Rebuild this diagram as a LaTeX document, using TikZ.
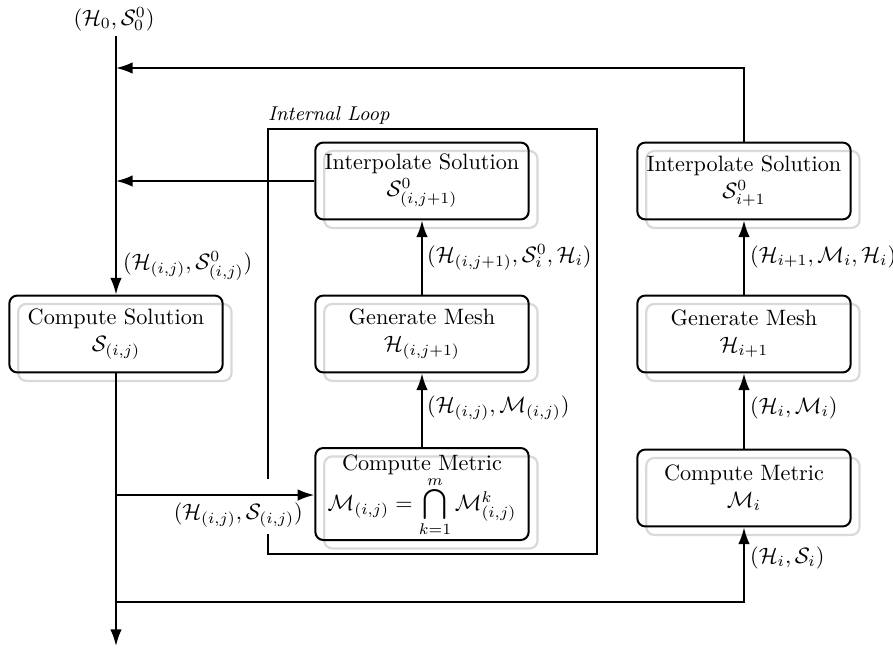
\documentclass[tikz,border=0pt]{standalone}
\usetikzlibrary{arrows.meta,shadows}
\newcommand{\bigcapx}{\mathop{\vcenter{\hbox{\scalebox{1.35}{$\bigcap$}}}}}
\begin{document}
\begin{tikzpicture}[x=0.45pt,y=-0.45pt, line width=0.9pt,
  box/.style={draw, rounded corners=3.6pt, minimum width=96pt, minimum height=34.6pt,
    align=center, inner sep=2pt,
    general shadow={shadow xshift=4pt, shadow yshift=-3.8pt, draw=gray!30, line width=1pt}},
  arr/.style={-{Latex[length=7.5pt,width=5.2pt]}},
  lbl/.style={inner sep=1pt}]
\useasboundingbox (0,0) rectangle (893,648);

% boxes
\node[box] (cs) at (116,334) {Compute Solution\\$\mathcal{S}_{(i,j)}$};
\node[box] (ii) at (422,181) {Interpolate Solution\\$\mathcal{S}^0_{(i,j+1)}$};
\node[box] (ig) at (422,334) {Generate Mesh\\$\mathcal{H}_{(i,j+1)}$};
\node[box, minimum height=41.4pt, inner ysep=0pt] (im) at (422,494) {\raisebox{-7pt}{\begin{tabular}{@{}c@{}}Compute Metric\\[-1pt] $\mathcal{M}_{(i,j)}=\bigcapx\limits_{k=1}^{m}\mathcal{M}^k_{(i,j)}$\end{tabular}}};
\node[box] (ri) at (744,181) {Interpolate Solution\\$\mathcal{S}^0_{i+1}$};
\node[box] (rg) at (744,334) {Generate Mesh\\$\mathcal{H}_{i+1}$};
\node[box] (rm) at (744,488) {Compute Metric\\$\mathcal{M}_i$};

% internal loop frame
\draw (268,479) -- (268,129) -- (597,129) -- (597,554) -- (268,554) -- (268,534);
\node[lbl, anchor=west, font=\fontsize{9pt}{11pt}\selectfont\itshape] (loop) at (265,115) {Internal Loop};

% main line
\coordinate (top) at (116,36);
\coordinate (bot) at (116,646);
\coordinate (j1) at (116,68);
\coordinate (b1) at (116,495);
\coordinate (b2) at (116,602);
\node[lbl, anchor=south] (l0) at (114,34) {$(\mathcal{H}_0,\mathcal{S}_0^0)$};
\draw[arr] (top) -- (cs.north);
\draw[arr] (cs.south) -- (bot);
\draw[arr] (ri.north) |- (j1);
\draw[arr] (ii.west) -- (ii.west -| top);
\draw[arr] (b1) -- (b1 -| im.west);
\draw[arr] (b2) -| (rm.south);
\draw[arr] (im) -- (ig);
\draw[arr] (ig) -- (ii);
\draw[arr] (rm) -- (rg);
\draw[arr] (rg) -- (ri);

% labels
\node[lbl, anchor=west] (l1) at (120,266) {$(\mathcal{H}_{(i,j)},\mathcal{S}^0_{(i,j)})$};
\node[lbl, anchor=west] (l2) at (424,257) {$(\mathcal{H}_{(i,j+1)},\mathcal{S}^0_{i},\mathcal{H}_i)$};
\node[lbl, anchor=west] (l3) at (424,408) {$(\mathcal{H}_{(i,j)},\mathcal{M}_{(i,j)})$};
\node[lbl, anchor=east] (l4) at (306,515) {$(\mathcal{H}_{(i,j)},\mathcal{S}_{(i,j)})$};
\node[lbl, anchor=west] (l5) at (747,257) {$(\mathcal{H}_{i+1},\mathcal{M}_{i},\mathcal{H}_i)$};
\node[lbl, anchor=west] (l6) at (747,408) {$(\mathcal{H}_{i},\mathcal{M}_{i})$};
\node[lbl, anchor=west] (l7) at (747,558) {$(\mathcal{H}_{i},\mathcal{S}_{i})$};
\end{tikzpicture}
\end{document}
